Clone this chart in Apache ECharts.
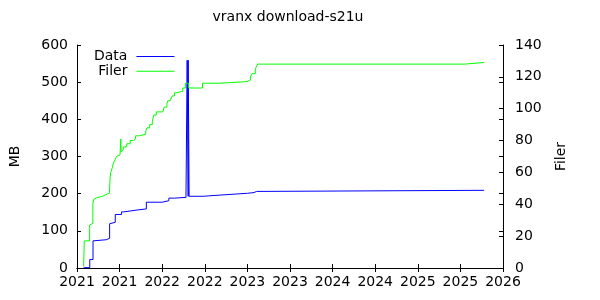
<!DOCTYPE html>
<html><head><meta charset="utf-8">
<script src="https://cdn.jsdelivr.net/npm/echarts@6/dist/echarts.min.js"></script>
<style>html,body{margin:0;padding:0;background:#fff}#c{width:600px;height:300px}</style>
</head><body><div id="c"></div>
<script>
const titleText = 'vranx download-s21u';
const seriesNames = ['Data', 'Filer'];
const axisNames = ['MB', 'Filer'];

// Data (MB) step points: decimal year -> MB
const dataYears = [2021.078, 2021.150, 2021.188, 2021.198, 2021.342, 2021.383, 2021.398, 2021.449, 2021.523, 2021.549,
  2021.706, 2021.814, 2022.000, 2022.078, 2022.144, 2022.279, 2022.293, 2022.305, 2022.3051, 2022.316,
  2022.481, 2022.667, 2023.002, 2023.078, 2023.107, 2025.779];
const dataMB = [1, 23, 73, 76, 80, 119, 123, 144, 151, 156,
  159, 177, 181, 188, 190, 193, 559, 193, 559, 193,
  196, 201, 203, 206, 209, 209];

// Filer (count) step points: decimal year -> files
const filerYears = [2021.078, 2021.085, 2021.148, 2021.171, 2021.186, 2021.194, 2021.206, 2021.226, 2021.299, 2021.337,
  2021.380, 2021.388, 2021.395, 2021.415, 2021.427, 2021.447, 2021.465, 2021.477, 2021.505, 2021.514,
  2021.518, 2021.523, 2021.543, 2021.584, 2021.624, 2021.663, 2021.688, 2021.735, 2021.807, 2021.822,
  2021.853, 2021.884, 2021.900, 2021.930, 2022.008, 2022.023, 2022.055, 2022.066, 2022.093, 2022.116,
  2022.144, 2022.171, 2022.241, 2022.272, 2022.310, 2022.473, 2022.667, 2022.997, 2023.035, 2023.055,
  2023.093, 2023.101, 2023.121, 2025.547, 2025.779];
const filerCounts = [1, 17, 27, 28, 40, 43, 44, 45, 46, 47,
  48, 56, 60, 63, 66, 68, 70, 71, 72, 81,
  73, 74, 76, 78, 80, 81, 83, 84, 86, 88,
  90, 92, 96, 98, 99, 101, 103, 105, 106, 108,
  110, 111, 113, 116, 113, 116, 117, 118, 120, 122,
  124, 126, 128, 129, 129];

const xMin = 2021, xMax = 2026, xStep = 0.5;
const mbMax = 600, mbStep = 100;
const filerMax = 140, filerStep = 20;

const FONT = 'DejaVu Sans, sans-serif';
const FS = 14;
const black = '#000';
const chart = echarts.init(document.getElementById('c'), null, {renderer: 'canvas'});

const tickIn = {show: true, inside: true, length: 4, lineStyle: {color: black, width: 1}};
const lineBlack = {show: true, lineStyle: {color: black, width: 1}};

chart.setOption({
  animation: false,
  backgroundColor: '#fff',
  textStyle: {fontFamily: FONT},
  title: {
    text: titleText, left: 288, top: 10, textAlign: 'center', padding: 0,
    textStyle: {fontFamily: FONT, fontSize: FS, fontWeight: 'normal', color: black}
  },
  legend: {
    data: seriesNames, orient: 'vertical', align: 'right', icon: 'rect',
    left: 94, top: 49.5, padding: 0, itemGap: 0.7, itemWidth: 38, itemHeight: 1,
    textStyle: {fontFamily: FONT, fontSize: FS, color: black, lineHeight: 14, padding: [0, 4, 0, 0]}
  },
  grid: {left: 73, right: 97, top: 45, bottom: 32, containLabel: false},
  xAxis: [
    {
      type: 'value', min: xMin, max: xMax, interval: xStep, position: 'bottom',
      axisLine: lineBlack, axisTick: tickIn, splitLine: {show: false},
      axisLabel: {color: black, fontSize: FS, fontFamily: FONT, margin: 7,
        formatter: v => String(Math.floor(v))}
    },
    {
      type: 'value', min: xMin, max: xMax, interval: xStep, position: 'top',
      axisLine: lineBlack, axisTick: tickIn, splitLine: {show: false},
      axisLabel: {show: false}
    }
  ],
  yAxis: [
    {
      type: 'value', min: 0, max: mbMax, interval: mbStep, position: 'left',
      name: axisNames[0], nameLocation: 'middle', nameGap: 55,
      nameTextStyle: {color: black, fontSize: FS, fontFamily: FONT},
      axisLine: lineBlack, axisTick: tickIn, splitLine: {show: false},
      axisLabel: {color: black, fontSize: FS, fontFamily: FONT, margin: 9}
    },
    {
      type: 'value', min: 0, max: filerMax, interval: filerStep, position: 'right',
      name: axisNames[1], nameLocation: 'middle', nameGap: 51,
      nameTextStyle: {color: black, fontSize: FS, fontFamily: FONT},
      axisLine: lineBlack, axisTick: tickIn, splitLine: {show: false},
      axisLabel: {color: black, fontSize: FS, fontFamily: FONT, margin: 12}
    },
    {
      type: 'value', min: 0, max: mbMax, interval: mbStep, position: 'right',
      axisLine: {show: false}, axisTick: tickIn, splitLine: {show: false},
      axisLabel: {show: false}
    }
  ],
  series: [
    {
      name: seriesNames[0], type: 'line', step: 'end', xAxisIndex: 0, yAxisIndex: 0,
      data: dataYears.map((x, i) => [x, dataMB[i]]),
      symbol: 'none', color: '#0000ff',
      lineStyle: {color: '#0000ff', width: 1}
    },
    {
      name: seriesNames[1], type: 'line', step: 'end', xAxisIndex: 0, yAxisIndex: 1,
      data: filerYears.map((x, i) => [x, filerCounts[i]]),
      symbol: 'none', color: '#00ff00',
      lineStyle: {color: '#00ff00', width: 1}
    }
  ]
});
</script></body></html>
